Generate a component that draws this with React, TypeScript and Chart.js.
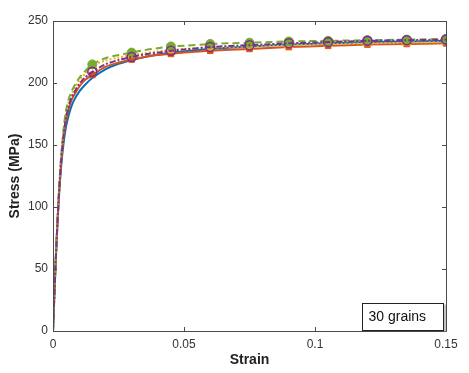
import React, { useEffect, useRef } from "react";
import { Chart, registerables } from "chart.js";

Chart.register(...registerables);

const strain = [0, 0.001, 0.002, 0.003, 0.004, 0.005, 0.006, 0.007, 0.008, 0.01, 0.012, 0.015, 0.02, 0.025, 0.03, 0.035, 0.04, 0.045, 0.05, 0.06, 0.075, 0.09, 0.105, 0.12, 0.135, 0.15];
const markerStrains = [0.015, 0.03, 0.045, 0.06, 0.075, 0.09, 0.105, 0.12, 0.135, 0.15];

const stressBlue = [0, 54, 98, 130, 151, 165, 174, 181, 186, 193, 198, 204, 211, 215.5, 218.5, 221, 223, 224.5, 225.5, 227.5, 229.5, 231, 232, 233, 233.5, 234];
const stressOrange = [0, 55, 100, 133, 156, 170, 179, 186, 190, 197, 202, 206.5, 213, 216.5, 219, 221, 222.5, 223.5, 224.5, 226, 227.5, 229, 230, 231, 231.5, 232];
const stressYellow = [0, 56, 101, 136, 160, 176, 185, 191, 195, 202, 207, 214, 218, 220.5, 222.5, 224, 225.5, 226.5, 227.5, 228.5, 229.5, 230.5, 231.5, 232, 232.5, 233];
const stressPurple = [0, 55, 100, 134, 157, 172, 181, 188, 192, 199, 204, 209, 215, 218.5, 221, 223, 224.5, 226, 227, 229, 230.5, 232, 233, 234, 234.5, 235];
const stressGreen = [0, 56, 102, 138, 162, 178, 187, 193, 197, 204, 209, 215, 220, 222.5, 224.5, 226.5, 228, 229.5, 230, 231.5, 232.5, 233.5, 234, 234.5, 235, 235.5];

const xTicks = [0, 0.05, 0.1, 0.15];
const xTickLabels = ["0", "0.05", "0.1", "0.15"];
const yTicks = [0, 50, 100, 150, 200, 250];
const annotationText = "30 grains";

const FONT = "'Liberation Sans', Arial, Helvetica, sans-serif";
const AXIS_COLOR = "#4a4a4a";

function toPoints(ys: number[]) {
  return strain.map((x, i) => ({ x, y: ys[i] }));
}

function isMarker(x: number) {
  return markerStrains.some((m) => Math.abs(m - x) < 1e-9);
}

const boxPlugin = {
  id: "matlabBox",
  afterDraw(chart: any) {
    const { ctx, chartArea } = chart;
    const xs = chart.scales.x;
    const ys = chart.scales.y;
    const { left, right, top, bottom } = chartArea;
    ctx.save();
    ctx.strokeStyle = AXIS_COLOR;
    ctx.lineWidth = 1;
    ctx.beginPath();
    ctx.rect(Math.round(left) + 0.5, Math.round(top) + 0.5, Math.round(right - left), Math.round(bottom - top));
    ctx.stroke();
    const tl = 4;
    ctx.beginPath();
    xTicks.forEach((v) => {
      const px = Math.round(xs.getPixelForValue(v)) + 0.5;
      ctx.moveTo(px, bottom);
      ctx.lineTo(px, bottom - tl);
      ctx.moveTo(px, top);
      ctx.lineTo(px, top + tl);
    });
    yTicks.forEach((v) => {
      const py = Math.round(ys.getPixelForValue(v)) + 0.5;
      ctx.moveTo(left, py);
      ctx.lineTo(left + tl, py);
      ctx.moveTo(right, py);
      ctx.lineTo(right - tl, py);
    });
    ctx.stroke();

    // annotation box
    const bw = 81;
    const bh = 27;
    const bx = Math.round(right) - 84 + 0.5;
    const by = Math.round(bottom) - 28 + 0.5;
    ctx.fillStyle = "#ffffff";
    ctx.fillRect(bx, by, bw, bh);
    ctx.strokeStyle = "#222222";
    ctx.lineWidth = 1;
    ctx.strokeRect(bx, by, bw, bh);
    ctx.strokeStyle = "#888888";
    ctx.beginPath();
    ctx.moveTo(bx + bw + 1.5, by + 1);
    ctx.lineTo(bx + bw + 1.5, by + bh + 1.5);
    ctx.stroke();
    ctx.fillStyle = "#111111";
    ctx.font = `14px ${FONT}`;
    ctx.textBaseline = "middle";
    ctx.textAlign = "left";
    ctx.fillText(annotationText, bx + 6, by + bh / 2 + 0.5);
    ctx.restore();
  },
};

export default function App() {
  const ref = useRef<HTMLCanvasElement | null>(null);

  useEffect(() => {
    document.body.style.margin = "0";
    const canvas = ref.current;
    if (!canvas) return;
    const radius = (r: number) => (c: any) => (isMarker(c.raw?.x) ? r : 0);
    const chart = new Chart(canvas, {
      type: "line",
      data: {
        datasets: [
          {
            label: "s1",
            data: toPoints(stressBlue),
            borderColor: "#0072BD",
            backgroundColor: "#0072BD",
            borderWidth: 2,
            pointRadius: 0,
            order: 5,
          },
          {
            label: "s2",
            data: toPoints(stressOrange),
            borderColor: "#D95319",
            backgroundColor: "#D95319",
            borderWidth: 2,
            pointStyle: "rect",
            pointRadius: radius(4),
            pointBorderWidth: 1,
            order: 4,
          },
          {
            label: "s3",
            data: toPoints(stressYellow),
            borderColor: "#EDB120",
            backgroundColor: "#EDB120",
            borderWidth: 2,
            borderDash: [2, 2],
            pointStyle: "triangle",
            pointRadius: radius(5),
            pointBorderWidth: 1,
            order: 3,
          },
          {
            label: "s5",
            data: toPoints(stressGreen),
            borderColor: "#77AC30",
            backgroundColor: "#77AC30",
            borderWidth: 2,
            borderDash: [7, 4],
            pointStyle: "circle",
            pointRadius: radius(4.5),
            pointBorderWidth: 1,
            order: 2,
          },
          {
            label: "s4",
            data: toPoints(stressPurple),
            borderColor: "#7E2F8E",
            backgroundColor: "rgba(0,0,0,0)",
            borderWidth: 2,
            borderDash: [6, 2, 2, 2],
            pointStyle: "circle",
            pointRadius: radius(4.5),
            pointBorderWidth: 1.6,
            order: 1,
          },
        ],
      },
      options: {
        animation: false,
        responsive: false,
        maintainAspectRatio: false,
        layout: { padding: { left: 0, right: 23, top: 21, bottom: 0 } },
        plugins: {
          legend: { display: false },
          tooltip: { enabled: false },
        },
        elements: { line: { tension: 0.3 } },
        scales: {
          x: {
            type: "linear",
            min: 0,
            max: 0.15,
            grid: { display: false, drawTicks: false },
            border: { display: false },
            afterBuildTicks: (s: any) => {
              s.ticks = xTicks.map((v) => ({ value: v }));
            },
            afterFit: (s: any) => {
              s.height = 42;
            },
            ticks: {
              padding: 6,
              color: "#333333",
              font: { family: FONT, size: 12 },
              callback: (v: any) => {
                const i = xTicks.findIndex((t) => Math.abs(t - Number(v)) < 1e-9);
                return i >= 0 ? xTickLabels[i] : "";
              },
              maxRotation: 0,
            },
            title: {
              display: true,
              text: "Strain",
              color: "#222222",
              font: { family: FONT, size: 14, weight: "bold" },
              padding: { top: 1, bottom: 4 },
            },
          },
          y: {
            type: "linear",
            min: 0,
            max: 250,
            grid: { display: false, drawTicks: false },
            border: { display: false },
            afterBuildTicks: (s: any) => {
              s.ticks = yTicks.map((v) => ({ value: v }));
            },
            afterFit: (s: any) => {
              s.width = 53;
            },
            ticks: {
              padding: 5,
              color: "#333333",
              font: { family: FONT, size: 12 },
            },
            title: {
              display: true,
              text: "Stress (MPa)",
              color: "#222222",
              font: { family: FONT, size: 14, weight: "bold" },
              padding: { top: 7, bottom: 0 },
            },
          },
        },
      },
      plugins: [boxPlugin],
    });
    return () => chart.destroy();
  }, []);

  return (
    <div style={{ width: 469, height: 373 }}>
      <canvas ref={ref} width={469} height={373} style={{ display: "block", width: 469, height: 373 }} />
    </div>
  );
}
